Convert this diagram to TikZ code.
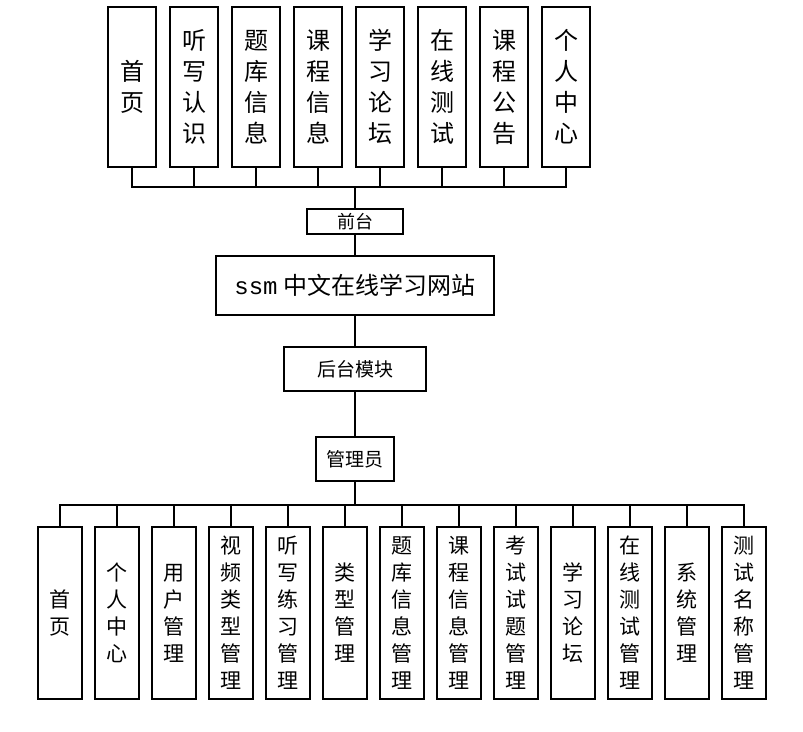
\documentclass[tikz,border=0pt]{standalone}
\usepackage{fontspec}
\setmainfont{Noto Sans CJK SC}
\newfontfamily\latinmono{Liberation Mono}
\usepackage{tikz}
\usetikzlibrary{positioning}

\begin{document}
\begin{tikzpicture}[
    x=1pt, y=-1pt,
    line width=1.3pt,
    box/.style={rectangle, draw, line width=1.3pt, inner sep=0pt, outer sep=0pt, minimum width=#1, align=center},
    topbox/.style={box=48pt, minimum height=160pt, font=\fontsize{24}{31}\selectfont},
    lowbox/.style={box=44pt, minimum height=172pt, font=\fontsize{21}{27}\selectfont}
]
\useasboundingbox (0,0) rectangle (803,731);
\node[box=278pt, minimum height=59pt, font=\fontsize{24}{26}\selectfont] (site) at (355,285.5) {{\latinmono ssm}\hspace{6pt}中文在线学习网站};
\node[box=96pt, minimum height=25pt, above=22pt of site, font=\fontsize{18}{20}\selectfont] (front) {前台};
\node[box=142pt, minimum height=44pt, below=32pt of site, font=\fontsize{19}{20}\selectfont] (back) {后台模块};
\node[box=78pt, minimum height=44pt, below=46pt of back, font=\fontsize{19}{20}\selectfont] (admin) {管理员};
% front pages
\node[topbox] (t1) at (132,87) {首\\页};
\node[topbox, right=14pt of t1] (t2) {听\\写\\认\\识};
\node[topbox, right=14pt of t2] (t3) {题\\库\\信\\息};
\node[topbox, right=14pt of t3] (t4) {课\\程\\信\\息};
\node[topbox, right=14pt of t4] (t5) {学\\习\\论\\坛};
\node[topbox, right=14pt of t5] (t6) {在\\线\\测\\试};
\node[topbox, right=14pt of t6] (t7) {课\\程\\公\\告};
\node[topbox, right=14pt of t7] (t8) {个\\人\\中\\心};
% admin pages
\node[lowbox] (b1) at (60,613) {首\\页};
\node[lowbox, right=13pt of b1] (b2) {个\\人\\中\\心};
\node[lowbox, right=13pt of b2] (b3) {用\\户\\管\\理};
\node[lowbox, right=13pt of b3] (b4) {视\\频\\类\\型\\管\\理};
\node[lowbox, right=13pt of b4] (b5) {听\\写\\练\\习\\管\\理};
\node[lowbox, right=13pt of b5] (b6) {类\\型\\管\\理};
\node[lowbox, right=13pt of b6] (b7) {题\\库\\信\\息\\管\\理};
\node[lowbox, right=13pt of b7] (b8) {课\\程\\信\\息\\管\\理};
\node[lowbox, right=13pt of b8] (b9) {考\\试\\试\\题\\管\\理};
\node[lowbox, right=13pt of b9] (b10) {学\\习\\论\\坛};
\node[lowbox, right=13pt of b10] (b11) {在\\线\\测\\试\\管\\理};
\node[lowbox, right=13pt of b11] (b12) {系\\统\\管\\理};
\node[lowbox, right=13pt of b12] (b13) {测\\试\\名\\称\\管\\理};
% trunk
\draw (front) -- (site);
\draw (site) -- (back);
\draw (back) -- (admin);
\draw (t1.south) -- ++(0,20) -| (front.north);
\draw (t2.south) -- ++(0,20) -| (front.north);
\draw (t3.south) -- ++(0,20) -| (front.north);
\draw (t4.south) -- ++(0,20) -| (front.north);
\draw (t5.south) -- ++(0,20) -| (front.north);
\draw (t6.south) -- ++(0,20) -| (front.north);
\draw (t7.south) -- ++(0,20) -| (front.north);
\draw (t8.south) -- ++(0,20) -| (front.north);
\draw (admin.south) -- ++(0,24) -| (b1.north);
\draw (admin.south) -- ++(0,24) -| (b2.north);
\draw (admin.south) -- ++(0,24) -| (b3.north);
\draw (admin.south) -- ++(0,24) -| (b4.north);
\draw (admin.south) -- ++(0,24) -| (b5.north);
\draw (admin.south) -- ++(0,24) -| (b6.north);
\draw (admin.south) -- ++(0,24) -| (b7.north);
\draw (admin.south) -- ++(0,24) -| (b8.north);
\draw (admin.south) -- ++(0,24) -| (b9.north);
\draw (admin.south) -- ++(0,24) -| (b10.north);
\draw (admin.south) -- ++(0,24) -| (b11.north);
\draw (admin.south) -- ++(0,24) -| (b12.north);
\draw (admin.south) -- ++(0,24) -| (b13.north);
\end{tikzpicture}
\end{document}
